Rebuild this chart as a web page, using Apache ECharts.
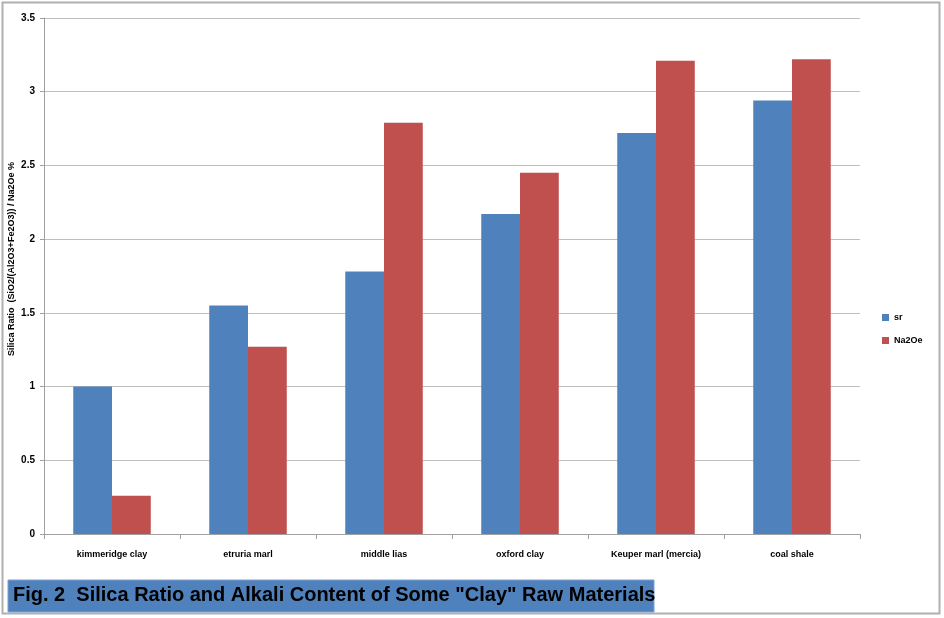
<!DOCTYPE html>
<html><head><meta charset="utf-8">
<script src="https://cdn.jsdelivr.net/npm/echarts@6/dist/echarts.min.js"></script>
<style>html,body{margin:0;padding:0;background:#fff}#c{width:944px;height:618px}</style>
</head><body><div id="c"></div>
<script>
var categories = ["kimmeridge clay", "etruria marl", "middle lias", "oxford clay", "Keuper marl (mercia)", "coal shale"];
var srValues = [1.0, 1.55, 1.78, 2.17, 2.72, 2.94];
var na2oeValues = [0.26, 1.27, 2.79, 2.45, 3.21, 3.22];
var seriesNames = ["sr", "Na2Oe"];
var yAxisTitle = "Silica Ratio  (SiO2/(Al2O3+Fe2O3)) / Na2Oe %";
var figTitle = 'Fig. 2  Silica Ratio and Alkali Content of Some "Clay" Raw Materials';

var chart = echarts.init(document.getElementById('c'));
var font = '"Liberation Sans", Arial, sans-serif';
chart.setOption({
  animation: false,
  backgroundColor: '#fff',
  textStyle: {fontFamily: font},
  grid: {left: 44, right: 84, top: 18, bottom: 84, containLabel: false, outerBoundsMode: 'none'},
  legend: {
    orient: 'vertical', left: 877, top: 308, itemWidth: 7, itemHeight: 7, itemGap: 14,
    icon: 'rect',
    textStyle: {fontSize: 9, fontWeight: 'bold', color: '#000', fontFamily: font},
    data: seriesNames
  },
  xAxis: {
    type: 'category', data: categories,
    axisLine: {lineStyle: {color: '#a0a0a0', width: 1}},
    axisTick: {show: true, length: 5, lineStyle: {color: '#a0a0a0'}},
    axisLabel: {fontSize: 9, fontWeight: 'bold', color: '#000', margin: 16, fontFamily: font}
  },
  yAxis: {
    type: 'value', min: 0, max: 3.5, interval: 0.5,
    axisLine: {show: true, lineStyle: {color: '#a0a0a0', width: 1}},
    axisTick: {show: true, length: 4, lineStyle: {color: '#a0a0a0'}},
    axisLabel: {fontSize: 10, fontWeight: 'bold', color: '#000', margin: 9, fontFamily: font},
    splitLine: {lineStyle: {color: '#bfbfbf', width: 1}}
  },
  series: [
    {name: seriesNames[0], type: 'bar', data: srValues, barGap: '0%', barCategoryGap: '43%',
     itemStyle: {color: '#4F81BD'}},
    {name: seriesNames[1], type: 'bar', data: na2oeValues, barGap: '0%', barCategoryGap: '43%',
     itemStyle: {color: '#C0504D'}}
  ],
  graphic: [
    {type: 'rect', shape: {x: 2.5, y: 2.5, width: 937, height: 611}, style: {fill: 'none', stroke: '#b0b0b0', lineWidth: 2}, silent: true},
    {type: 'text', x: 12, y: 259, rotation: Math.PI / 2,
     style: {text: yAxisTitle, fill: '#000', font: 'bold 9px ' + font, align: 'center', verticalAlign: 'middle'}, silent: true},
    {type: 'rect', shape: {x: 8, y: 580, width: 646, height: 32}, style: {fill: '#4F81BD', stroke: '#7f9fcf', lineWidth: 1}, silent: true},
    {type: 'text', left: 13, top: 585, style: {text: figTitle, fill: '#000', font: 'bold 20px ' + font}, silent: true}
  ]
});
</script></body></html>
